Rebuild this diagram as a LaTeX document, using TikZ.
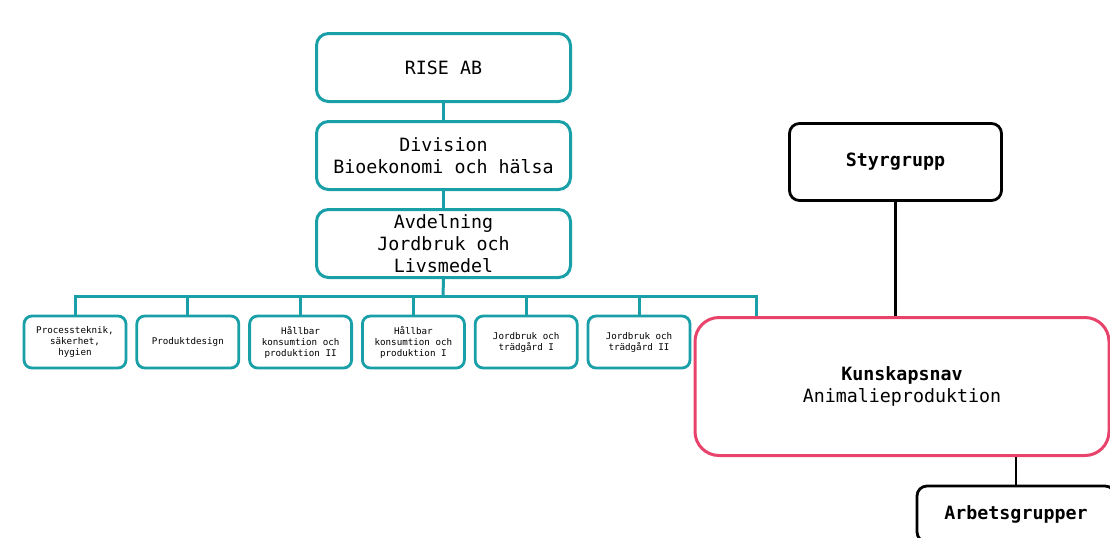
\documentclass[tikz,border=0pt]{standalone}
\usepackage{fontspec}
\setmonofont{DejaVu Sans Mono}
\usetikzlibrary{positioning}
\definecolor{riseteal}{HTML}{189FA7}
\definecolor{navpink}{HTML}{E8436A}

\begin{document}
\begin{tikzpicture}[x=0.5pt,y=-0.5pt,
  org/.style={rectangle, rounded corners=6pt, draw=riseteal, line width=1.5pt, align=center, inner sep=0pt, minimum width=127pt, minimum height=34pt, font=\ttfamily\fontsize{9.15}{11}\selectfont},
  unit/.style={rectangle, rounded corners=4pt, draw=riseteal, line width=1.4pt, align=center, inner sep=0pt, minimum width=51pt, minimum height=26pt, font=\ttfamily\fontsize{4.6}{5.5}\selectfont},
  grp/.style={rectangle, rounded corners=5pt, draw=black, line width=1.4pt, align=center, inner sep=0pt, font=\ttfamily\bfseries\fontsize{9.15}{11}\selectfont},
  nav/.style={rectangle, rounded corners=12pt, draw=navpink, line width=1.5pt, align=center, inner sep=0pt, minimum width=207pt, minimum height=69pt, font=\ttfamily\fontsize{9.15}{11}\selectfont},
  tline/.style={draw=riseteal, line width=1.5pt},
  bline/.style={draw=black, line width=1.3pt},
  node distance=8.5pt]
\clip (0,0) rectangle (1110,537);
%Nodes
\node[org] (1) at (443.5,67.5) {RISE AB};
\node[org] (2) [below=of 1] {Division\\Bioekonomi och hälsa};
\node[org] (3) [below=of 2] {Avdelning\\Jordbruk och\\Livsmedel};

\node[unit] (4) at (75,342) {Processteknik,\\säkerhet,\\hygien};
\node[unit] (5) [right=4pt of 4] {Produktdesign};
\node[unit] (6) [right=4pt of 5] {Hållbar\\konsumtion och\\produktion II};
\node[unit] (7) [right=4pt of 6] {Hållbar\\konsumtion och\\produktion I};
\node[unit] (8) [right=4pt of 7] {Jordbruk och\\trädgård I};
\node[unit] (9) [right=4pt of 8] {Jordbruk och\\trädgård II};

\node[grp, minimum width=106pt, minimum height=38.5pt] (10) at (895.5,162) {Styrgrupp};
\node[nav] (11) at (902,386.5) {\textbf{Kunskapsnav}\\Animalieproduktion};
\node[grp, minimum width=99pt, minimum height=28pt] (12) at (1016,514) {Arbetsgrupper};

\coordinate (bus) at (443,296);
\coordinate (navin) at (756,316);

%Lines
\draw[tline] (1.south) -- (2.north);
\draw[tline] (2.south) -- (3.north);
\draw[tline] (3.south) -- (bus);
\draw[tline] (bus) -| (4.north);
\draw[tline] (bus) -| (5.north);
\draw[tline] (bus) -| (6.north);
\draw[tline] (bus) -| (7.north);
\draw[tline] (bus) -| (8.north);
\draw[tline] (bus) -| (9.north);
\draw[tline] (bus) -| (navin);

\draw[bline] (10.south) -- (10.south |- 11.north);
\draw[bline] (12.north) -- (12.north |- 11.south);

\end{tikzpicture}
\end{document}
